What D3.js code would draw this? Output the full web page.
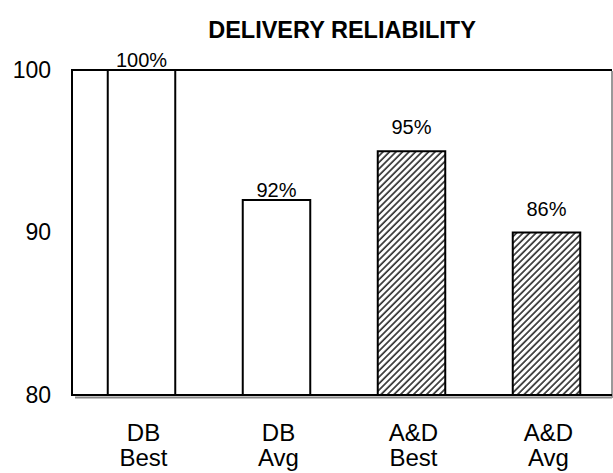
<!DOCTYPE html>
<html>
<head>
<meta charset="utf-8">
<script src="https://cdn.jsdelivr.net/npm/d3@7"></script>
<style>
  html, body { margin: 0; padding: 0; background: #fff; }
  svg { display: block; font-family: "Liberation Sans", Arial, sans-serif; }
</style>
</head>
<body>
<svg id="chart" width="613" height="473"></svg>
<script>
// ---- data ----
const categories = [["DB", "Best"], ["DB", "Avg"], ["A&D", "Best"], ["A&D", "Avg"]];
const values = [100, 92, 95, 90];
const valueLabels = ["100%", "92%", "95%", "86%"];
const hatched = [false, false, true, true];
const yTicks = [80, 90, 100];
const title = "DELIVERY RELIABILITY";

// ---- layout ----
const plot = { left: 72, right: 612, top: 70, bottom: 395 };
const labelLift = [3, 3, 17, 17];

const svg = d3.select("#chart");

const defs = svg.append("defs");
const pat = defs.append("pattern")
  .attr("id", "hatch")
  .attr("patternUnits", "userSpaceOnUse")
  .attr("width", 4.6).attr("height", 4.6)
  .attr("patternTransform", "rotate(45)");
pat.append("rect").attr("width", 4.6).attr("height", 4.6).attr("fill", "#fff");
pat.append("line").attr("x1", 1).attr("y1", 0).attr("x2", 1).attr("y2", 4.6)
  .attr("stroke", "#333").attr("stroke-width", 1.7);

const x = d3.scaleBand()
  .domain(d3.range(categories.length))
  .range([plot.left + 2, plot.right + 2])
  .paddingInner(0.5)
  .paddingOuter(0.25);

const y = d3.scaleLinear().domain([80, 100]).range([plot.bottom, plot.top]);

// title
svg.append("text")
  .attr("x", 342).attr("y", 38)
  .attr("text-anchor", "middle")
  .attr("font-weight", "bold")
  .attr("font-size", 23.5)
  .text(title);

// shadow of plot frame
svg.append("line")
  .attr("x1", plot.left + 3).attr("x2", plot.right)
  .attr("y1", plot.bottom + 2.5).attr("y2", plot.bottom + 2.5)
  .attr("stroke", "#888").attr("stroke-width", 2);
svg.append("line")
  .attr("x1", plot.right).attr("x2", plot.right)
  .attr("y1", plot.top + 1).attr("y2", plot.bottom + 3)
  .attr("stroke", "#999").attr("stroke-width", 2);

// frame
svg.append("path")
  .attr("d", `M${plot.right},${plot.top}H${plot.left}V${plot.bottom}H${plot.right}`)
  .attr("fill", "none").attr("stroke", "#000").attr("stroke-width", 2);

// y axis labels (via d3 axis, no lines)
const yAxis = svg.append("g")
  .attr("transform", `translate(${plot.left - 21},0)`)
  .call(d3.axisLeft(y).tickValues(yTicks).tickSize(0).tickPadding(0).tickFormat(d3.format("d")));
yAxis.select(".domain").remove();
yAxis.selectAll("text")
  .attr("font-size", 23)
  .attr("font-family", "Liberation Sans, Arial, sans-serif")
  .attr("fill", "#000");

// bars
svg.selectAll("rect.bar")
  .data(values)
  .join("rect")
  .attr("class", "bar")
  .attr("x", (d, i) => x(i))
  .attr("y", d => y(d))
  .attr("width", x.bandwidth())
  .attr("height", d => y(80) - y(d))
  .attr("fill", (d, i) => hatched[i] ? "url(#hatch)" : "#fff")
  .attr("stroke", "#000")
  .attr("stroke-width", 2);

// value labels
svg.selectAll("text.val")
  .data(values)
  .join("text")
  .attr("class", "val")
  .attr("x", (d, i) => x(i) + x.bandwidth() / 2)
  .attr("y", (d, i) => y(d) - labelLift[i])
  .attr("text-anchor", "middle")
  .attr("font-size", 20)
  .text((d, i) => valueLabels[i]);

// category labels
const cat = svg.selectAll("text.cat")
  .data(categories)
  .join("text")
  .attr("class", "cat")
  .attr("text-anchor", "middle")
  .attr("font-size", 24)
  .attr("transform", (d, i) => `translate(${x(i) + x.bandwidth() / 2 + 2},0)`);
cat.append("tspan").attr("x", 0).attr("y", 441).text(d => d[0]);
cat.append("tspan").attr("x", 0).attr("y", 466).text(d => d[1]);
</script>
</body>
</html>
